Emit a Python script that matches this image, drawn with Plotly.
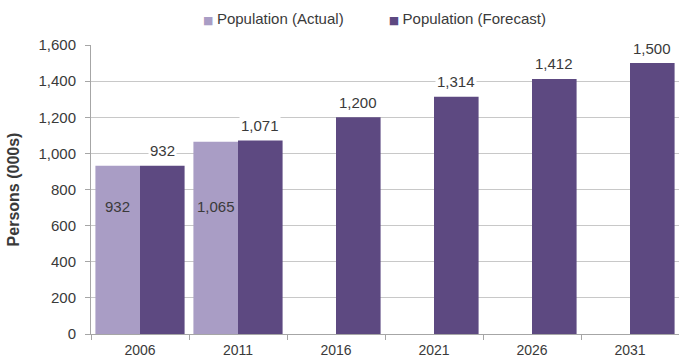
import plotly.graph_objects as go

years = ["2006", "2011", "2016", "2021", "2026", "2031"]
actual = [932, 1065, None, None, None, None]
forecast = [932, 1071, 1200, 1314, 1412, 1500]
actual_labels = ["932", "1,065"]
forecast_labels = ["932", "1,071", "1,200", "1,314", "1,412", "1,500"]
y_ticks = [0, 200, 400, 600, 800, 1000, 1200, 1400, 1600]
series_names = ["Population (Actual)", "Population (Forecast)"]

C_ACT = "#A99DC5"
C_FC = "#5D4981"
TXT = "#3A3A3A"
FONT = "Liberation Sans, Arial, sans-serif"
BARGAP = 0.09
ACT_LABEL_LEVEL = 708  # vertical placement of labels inside actual bars


def key(color, name):
    return (f"<span style='color:{color};font-size:11px;font-family:DejaVu Sans'>\u25A0 </span>"
            + name)


fig = go.Figure()
fig.add_trace(go.Bar(x=years, y=actual, name=series_names[0],
                     marker=dict(color=C_ACT, line=dict(width=0)), showlegend=False))
fig.add_trace(go.Bar(x=years, y=forecast, name=series_names[1],
                     marker=dict(color=C_FC, line=dict(width=0)), showlegend=False))
# legend entries with small square keys placed right next to their text
for c, n in zip([C_ACT, C_FC], series_names):
    fig.add_trace(go.Scatter(x=[None], y=[None], mode="markers", name=key(c, n),
                             marker=dict(symbol="square", size=1, color="rgba(0,0,0,0)")))

off = (1 - BARGAP) / 4
ann = []
for i, (v, t) in enumerate(zip(actual, actual_labels)):
    ann.append(dict(x=i - off, y=ACT_LABEL_LEVEL, xref="x", yref="y", text=t,
                    showarrow=False, font=dict(size=15, color=TXT, family=FONT)))
for i, (v, t) in enumerate(zip(forecast, forecast_labels)):
    ann.append(dict(x=i + off, y=v, xref="x", yref="y", text=t, yanchor="middle",
                    yshift=15, showarrow=False, bgcolor="white", borderpad=1,
                    font=dict(size=15, color=TXT, family=FONT)))

fig.update_layout(
    width=679, height=358,
    margin=dict(l=91, r=0, t=45, b=24),
    paper_bgcolor="white", plot_bgcolor="white",
    barmode="group", bargap=BARGAP, bargroupgap=0,
    font=dict(family=FONT, size=15, color=TXT),
    annotations=ann,
    legend=dict(orientation="h", xref="container", yref="container",
                x=163 / 679, y=0.95, xanchor="left", yanchor="middle",
                font=dict(size=15, color=TXT), itemwidth=30,
                bgcolor="rgba(0,0,0,0)"),
    xaxis=dict(type="category", range=[-0.5, 5.5], showline=True, linecolor="#A6A6A6",
               linewidth=1, ticks="outside", tickson="boundaries", ticklen=5,
               tickcolor="#A6A6A6", showgrid=False, ticklabelstandoff=3,
               tickfont=dict(size=14, color=TXT)),
    yaxis=dict(range=[0, 1600], tickvals=y_ticks, tickformat=",", showline=True,
               linecolor="#A6A6A6", linewidth=1, ticks="outside", ticklen=5,
               tickcolor="#A6A6A6", gridcolor="#C8C8C8", gridwidth=1,
               zeroline=False, ticklabelstandoff=6, tickfont=dict(size=15, color=TXT),
               title=dict(text="<b>Persons (000s)</b>", standoff=14,
                          font=dict(size=16, color=TXT))),
)

fig.write_html("out.html")
